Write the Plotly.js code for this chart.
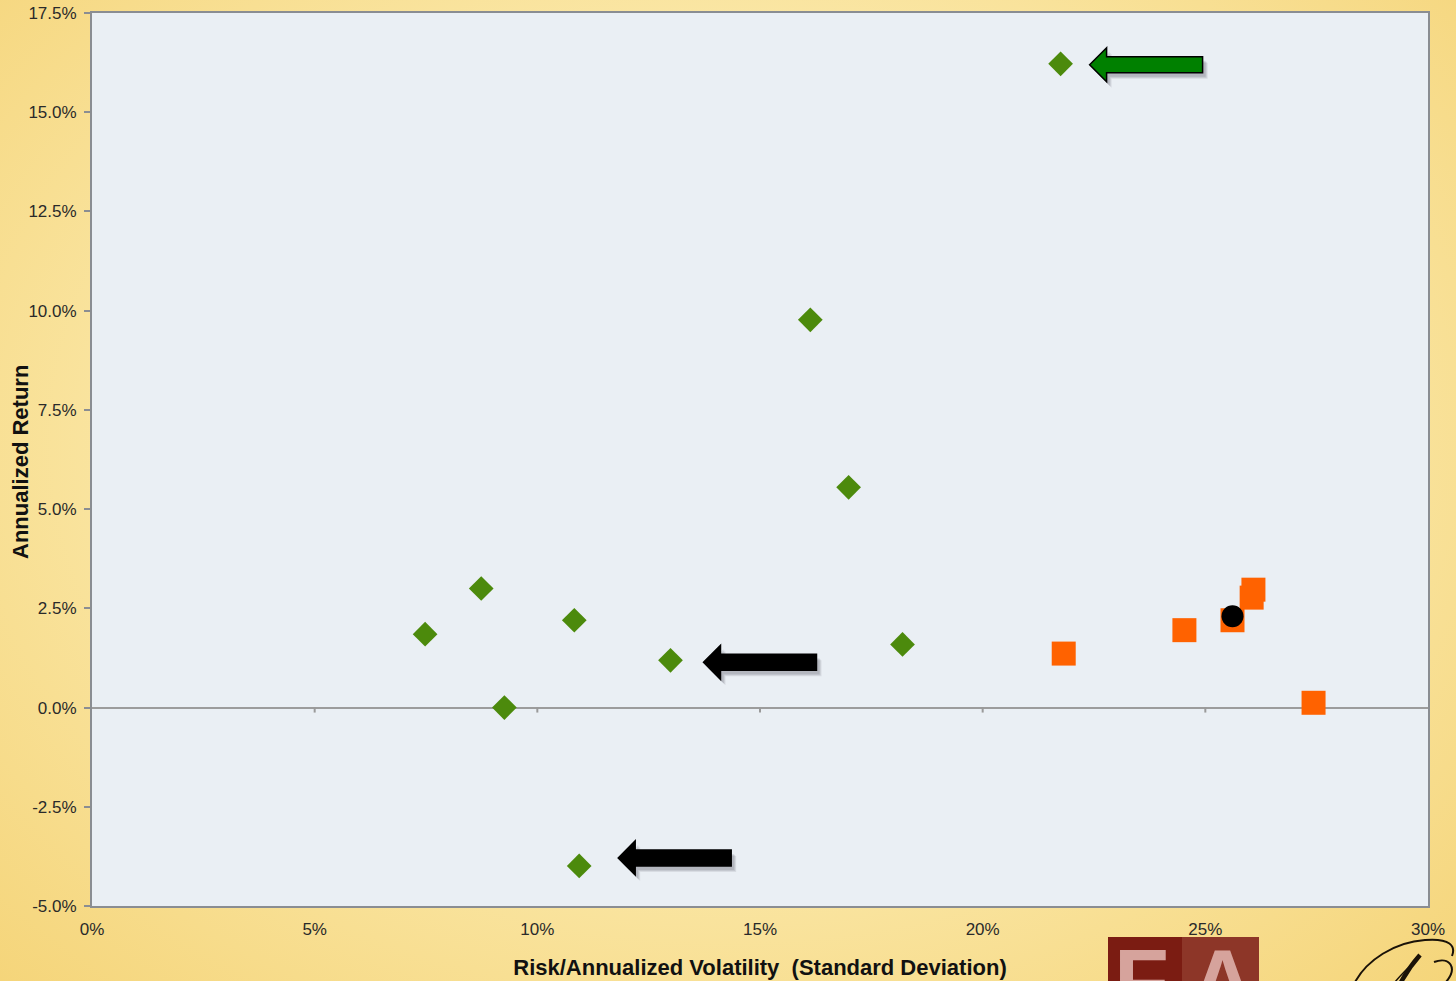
<!DOCTYPE html>
<html>
<head>
<meta charset="utf-8">
<script src="https://cdn.plot.ly/plotly-3.0.1.min.js"></script>
<style>
  html, body { margin: 0; padding: 0; }
  body {
    width: 1456px; height: 981px; overflow: hidden;
    background: radial-gradient(ellipse at 50% 45%, #FDF2CB 0%, #FAE6A4 55%, #F5D57A 100%);
  }
  #chart { width: 1456px; height: 981px; }
</style>
</head>
<body>
<div id="chart"></div>
<script>
// Risk (annualized volatility, %) vs. annualized return (%)
const lowVolRisk   = [21.75, 16.13, 16.99, 8.74, 7.48, 10.83, 12.99, 9.26, 18.20, 10.94];
const lowVolReturn = [16.22,  9.77,  5.55, 3.00, 1.85,  2.20,  1.19, 0.00,  1.59, -3.99];

const highVolRisk   = [21.82, 24.53, 25.61, 26.08, 26.04, 27.43];
const highVolReturn = [ 1.36,  1.95,  2.20,  2.97,  2.77,  0.12];

const benchRisk   = [25.61];
const benchReturn = [ 2.30];

const xTickVals = [0, 5, 10, 15, 20, 25, 30];
const xTickText = ['0%', '5%', '10%', '15%', '20%', '25%', '30%'];
const yTickVals = [-5, -2.5, 0, 2.5, 5, 7.5, 10, 12.5, 15, 17.5];
const yTickText = ['-5.0%', '-2.5%', '0.0%', '2.5%', '5.0%', '7.5%', '10.0%', '12.5%', '15.0%', '17.5%'];

const xTitle = 'Risk/Annualized Volatility\u00a0\u00a0(Standard Deviation)';
const yTitle = 'Annualized Return';

// Points singled out by arrows: [risk, return, fill colour, tip gap px, vertical offset px]
const arrowTargets = [
  [21.75, 16.22, '#008000', 29, -1],
  [12.99,  1.19, '#000000', 33, -2],
  [10.94, -3.99, '#000000', 39, 8]
];

const W = 1456, H = 981;
const M = { l: 92, r: 28, t: 13, b: 75 };
const PW = W - M.l - M.r, PH = H - M.t - M.b;
const px = x => (x - M.l) / PW;          // page px -> paper x
const py = y => (M.t + PH - y) / PH;     // page px -> paper y

const shapes = [];

// block arrow pointing left, tip placed to the right of its target point
function arrowPath(tip, dy) {
  const L = 113, hl = 17, hh = 17, sh = 8;
  const p = [[tip, 0], [tip + hl, hh], [tip + hl, sh], [tip + L, sh],
             [tip + L, -sh], [tip + hl, -sh], [tip + hl, -hh]];
  return 'M' + p.map(q => q[0] + ',' + (q[1] + dy)).join('L') + 'Z';
}
arrowTargets.forEach(([x, y, col, tip, dy]) => {
  // soft drop shadow, stacked a few times for a blurred edge
  [[5, 'rgba(60,60,70,0.10)'], [4, 'rgba(60,60,70,0.12)'], [3, 'rgba(60,60,70,0.12)']].forEach(([o, c]) => {
    shapes.push({
      type: 'path', xref: 'x', yref: 'y', xsizemode: 'pixel', ysizemode: 'pixel',
      xanchor: x, yanchor: y, path: arrowPath(tip + o, dy - o - 1),
      fillcolor: c, line: { width: 0 }, layer: 'above'
    });
  });
  shapes.push({
    type: 'path', xref: 'x', yref: 'y', xsizemode: 'pixel', ysizemode: 'pixel',
    xanchor: x, yanchor: y, path: arrowPath(tip, dy),
    fillcolor: col, line: { color: '#000000', width: 1.5 }, layer: 'above'
  });
});

// small tick marks along the zero line
xTickVals.slice(1, -1).forEach(v => {
  shapes.push({
    type: 'line', xref: 'x', yref: 'y', ysizemode: 'pixel', yanchor: 0,
    x0: v, x1: v, y0: 0, y1: -5, line: { color: '#9a9a9a', width: 2 }
  });
});

// "FA" badge below the axis
shapes.push({ type: 'rect', xref: 'paper', yref: 'paper',
  x0: px(1108), x1: px(1182), y0: py(995), y1: py(937),
  fillcolor: '#7B1C12', line: { width: 0 } });
shapes.push({ type: 'rect', xref: 'paper', yref: 'paper',
  x0: px(1182), x1: px(1259), y0: py(995), y1: py(937),
  fillcolor: '#8D3628', line: { width: 0 } });

// pen-stroke monogram in the corner
function pPath(pts) {
  return pts.map((c, i) => (i === 0 ? 'M' : (c.length === 6 ? 'C' : 'L')) +
    (c.length === 6
      ? [px(c[0]) + ',' + py(c[1]), px(c[2]) + ',' + py(c[3]), px(c[4]) + ',' + py(c[5])].join(' ')
      : px(c[0]) + ',' + py(c[1]))).join(' ');
}
shapes.push({ type: 'path', xref: 'paper', yref: 'paper',
  path: pPath([[1354, 984], [1366, 960, 1395, 942, 1425, 940], [1450, 938, 1456, 946, 1452, 956]]),
  line: { color: '#1a1208', width: 2 } });
shapes.push({ type: 'path', xref: 'paper', yref: 'paper',
  path: pPath([[1420, 955], [1412, 964, 1405, 974, 1399, 986]]),
  line: { color: '#1a1208', width: 4.5 } });
shapes.push({ type: 'path', xref: 'paper', yref: 'paper',
  path: pPath([[1408, 968], [1402, 974, 1396, 980, 1392, 986]]),
  line: { color: '#1a1208', width: 1.5 } });
shapes.push({ type: 'path', xref: 'paper', yref: 'paper',
  path: pPath([[1434, 962], [1450, 956, 1458, 968, 1446, 982]]),
  line: { color: '#1a1208', width: 2 } });

const font = 'Liberation Sans, Arial, sans-serif';

const annotations = [
  { text: '<b>F</b>', xref: 'paper', yref: 'paper', x: px(1112), y: py(930),
    xanchor: 'left', yanchor: 'top', showarrow: false,
    font: { family: font, size: 90, color: '#D6A39C' } },
  { text: '<b>A</b>', xref: 'paper', yref: 'paper', x: px(1222), y: py(930),
    xanchor: 'center', yanchor: 'top', showarrow: false,
    font: { family: font, size: 90, color: '#D6A39C' } },
  // y-axis title, placed by hand so it sits close to the tick labels
  { text: '<b>' + yTitle + '</b>', xref: 'paper', yref: 'paper', x: px(20), y: py(462),
    xanchor: 'center', yanchor: 'middle', textangle: -90, showarrow: false,
    font: { family: font, size: 22, color: '#111111' } }
];

const traces = [
  {
    x: lowVolRisk, y: lowVolReturn, type: 'scatter', mode: 'markers',
    name: 'Lower volatility', cliponaxis: false,
    marker: { symbol: 'diamond', size: 19, color: '#4C8A0C', line: { width: 0 } }
  },
  {
    x: highVolRisk, y: highVolReturn, type: 'scatter', mode: 'markers',
    name: 'Higher volatility', cliponaxis: false,
    marker: { symbol: 'square', size: 24, color: '#FF6200', line: { width: 0 } }
  },
  {
    x: benchRisk, y: benchReturn, type: 'scatter', mode: 'markers',
    name: 'Benchmark', cliponaxis: false,
    marker: { symbol: 'circle', size: 22, color: '#000000', line: { width: 0 } }
  }
];

const layout = {
  width: W, height: H,
  margin: M,
  paper_bgcolor: 'rgba(0,0,0,0)',
  plot_bgcolor: '#EAEFF4',
  showlegend: false,
  font: { family: font, size: 17, color: '#2a2a2a' },
  xaxis: {
    range: [0, 30], tickvals: xTickVals, ticktext: xTickText,
    showgrid: false, zeroline: false,
    showline: true, mirror: true, linecolor: '#8a8d92', linewidth: 2,
    ticks: 'outside', ticklen: 7, tickcolor: 'rgba(0,0,0,0)',
    tickfont: { family: font, size: 17, color: '#2a2a2a' },
    title: { text: '<b>' + xTitle + '</b>',
             font: { family: font, size: 22, color: '#111111' }, standoff: 21 }
  },
  yaxis: {
    range: [-5, 17.5], tickvals: yTickVals, ticktext: yTickText,
    showgrid: false, zeroline: true, zerolinecolor: '#9c9c9c', zerolinewidth: 2,
    showline: true, mirror: true, linecolor: '#8a8d92', linewidth: 2,
    ticks: 'outside', ticklen: 6, tickcolor: '#8a8d92', tickwidth: 2,
    ticklabelstandoff: 4,
    tickfont: { family: font, size: 17, color: '#2a2a2a' }
  },
  shapes: shapes,
  annotations: annotations
};

Plotly.newPlot('chart', traces, layout, { displayModeBar: false, staticPlot: true });
</script>
</body>
</html>
